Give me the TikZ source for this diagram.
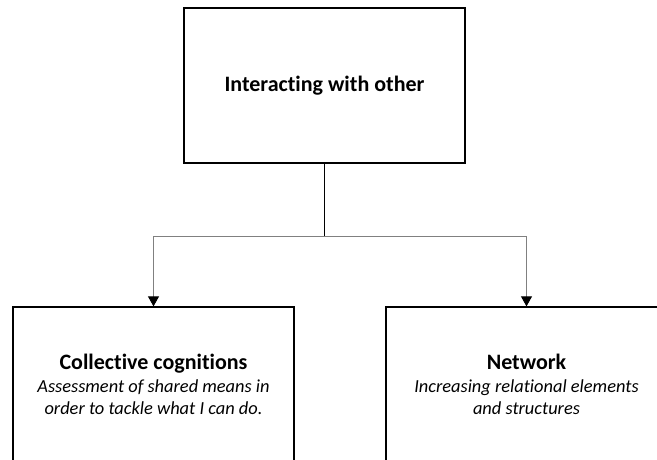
\documentclass[tikz,border=0pt]{standalone}
\usepackage{fontspec}
\setmainfont{Carlito}[Ligatures=NoCommon]
\usepackage{tikz}
\usetikzlibrary{arrows.meta}
\newcommand{\boxtitle}{\fontsize{22}{24}\selectfont\bfseries\upshape}
\newcommand{\boxbody}{\fontsize{18.4}{22}\selectfont\itshape}
\tikzset{
    block/.style={rectangle,draw=black,line width=1.3pt,minimum width=281pt,minimum height=155pt,inner sep=0pt,align=center,font=\boxbody},
    stem/.style={draw=black,line width=0.9pt},
    branch/.style={-{Triangle[width=11pt,length=10pt,color=black]},draw=gray,line width=0.9pt}
    }

\begin{document}
\begin{tikzpicture}[x=1pt,y=-1pt]
        \useasboundingbox (0,0) rectangle (657,459);

        % blocks
        \node[block] (other) at (324.5,85.5) {\boxtitle Interacting with other};
        \node[block] (cognitions) at (153.5,384.5) {{\boxtitle Collective cognitions}\\[1pt]
            Assessment of shared means in\\order to tackle what I can do.};
        \node[block] (network) at (526.5,384.5) {{\boxtitle Network}\\[1pt]
            Increasing relational elements\\and structures};

        %edges
        \coordinate (split) at (324.5,236);
        \draw[stem] (other) -- (split);
        \draw[branch] (split) -| (cognitions);
        \draw[branch] (split) -| (network);
    \end{tikzpicture}
\end{document}
